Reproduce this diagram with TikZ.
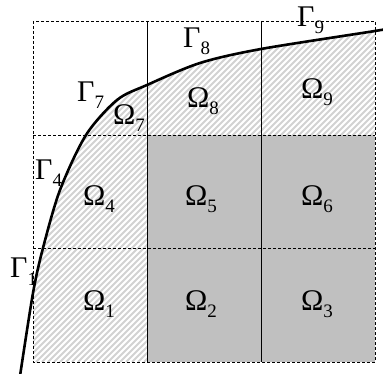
\documentclass[tikz,border=0pt]{standalone}
\usepackage{fontspec}
\setmainfont{Liberation Serif}
\definecolor{CellGray}{HTML}{C0C0C0}
\definecolor{HatchGray}{HTML}{D2D2D2}
\newcommand{\sublabel}[2]{#1\raisebox{-7pt}{\fontsize{19}{19}\selectfont #2}}

\begin{document}
\begin{tikzpicture}[x=1pt,y=-1pt,
  gridline/.style={line width=0.8pt,dash pattern=on 3pt off 2pt},
  divline/.style={line width=0.8pt},
  hatchline/.style={HatchGray,line width=1.8pt},
  boundary/.style={line width=2.6pt,line cap=round},
  lbl/.style={inner sep=0pt,anchor=base west,font=\fontsize{30}{30}\selectfont}
]
\useasboundingbox (0,0) rectangle (383,374);
% hatched part of the domain
\begin{scope}
\clip plot[smooth] coordinates {(20,376) (33,293) (43,248) (60,190) (86,135) (117,100) (147,85) (200,63) (261,49) (375,31) (385,29)} -- (385,376) -- cycle;
\clip (33,21) rectangle (375,362);
\foreach \i in {-360,-354,...,384}
  \draw[hatchline] (\i,362) -- ++(360,-360);
\end{scope}
% gray cells
\fill[CellGray] (147,135) rectangle (375,362);
% grid
\draw[gridline] (33,21) rectangle (375,362);
\foreach \y in {135,248} \draw[gridline] (33,\y) -- (375,\y);
\foreach \x in {147,261} \draw[divline] (\x,21) -- (\x,362);
% curve
\draw[boundary] plot[smooth] coordinates {(20,376) (33,293) (43,248) (60,190) (86,135) (117,100) (147,85) (200,63) (261,49) (375,31) (385,29)};
% labels
\node[lbl] (o1) at (83,310) {\sublabel{Ω}{1}};
\node[lbl] (o2) at (185,310) {\sublabel{Ω}{2}};
\node[lbl] (o3) at (301,310) {\sublabel{Ω}{3}};
\node[lbl] (o4) at (83,206) {\sublabel{Ω}{4}};
\node[lbl] (o5) at (185,206) {\sublabel{Ω}{5}};
\node[lbl] (o6) at (301,206) {\sublabel{Ω}{6}};
\node[lbl] (o7) at (113,125) {\sublabel{Ω}{7}};
\node[lbl] (o8) at (187,108) {\sublabel{Ω}{8}};
\node[lbl] (o9) at (301,99) {\sublabel{Ω}{9}};
\node[lbl] (g1) at (10,278) {\sublabel{Γ}{1}};
\node[lbl] (g4) at (35,180) {\sublabel{Γ}{4}};
\node[lbl] (g7) at (77,102) {\sublabel{Γ}{7}};
\node[lbl] (g8) at (183,48) {\sublabel{Γ}{8}};
\node[lbl] (g9) at (297,27) {\sublabel{Γ}{9}};
\end{tikzpicture}
\end{document}
